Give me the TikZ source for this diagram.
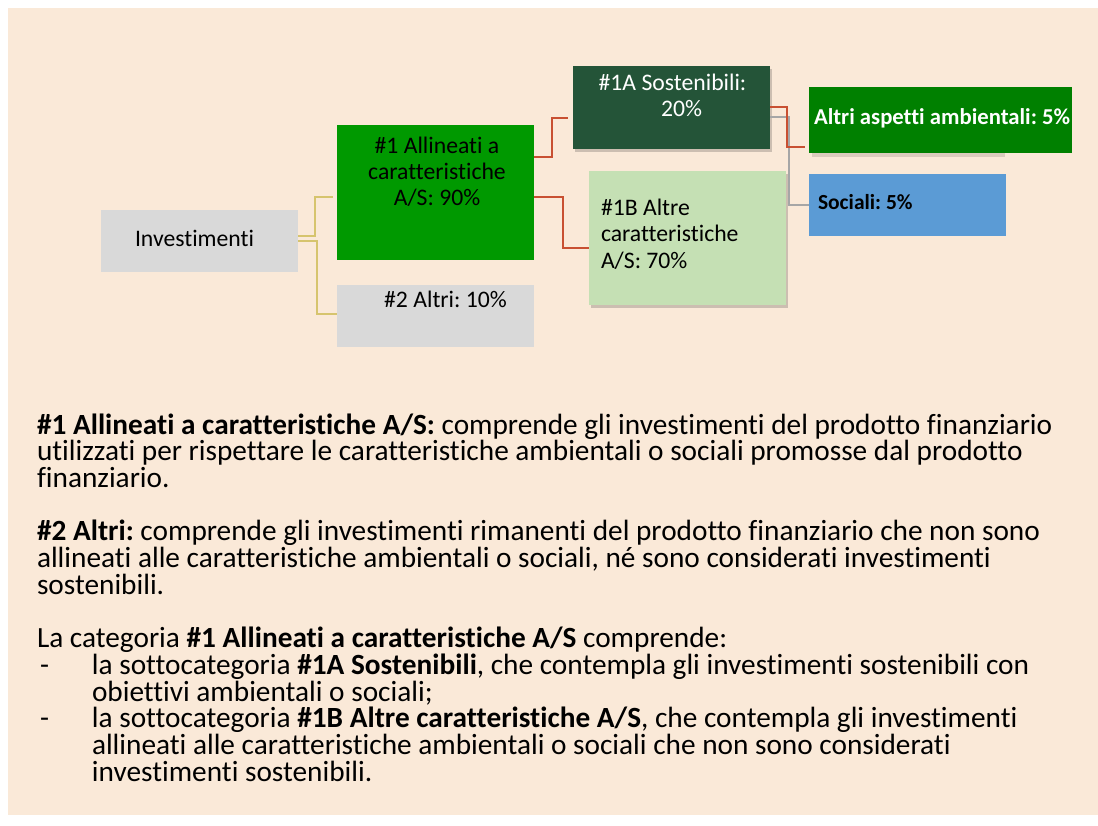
\documentclass[tikz,border=0pt]{standalone}
\usepackage{fontspec}
\setmainfont{Carlito}[Ligatures=CommonOff]
\usetikzlibrary{shadows}
\definecolor{bg}{RGB}{250,233,216}
\definecolor{boxgray}{RGB}{217,217,217}
\definecolor{greenA}{RGB}{0,153,0}
\definecolor{darkgreen}{RGB}{36,84,56}
\definecolor{lightgreen}{RGB}{197,224,180}
\definecolor{ambgreen}{RGB}{0,128,0}
\definecolor{socblue}{RGB}{91,155,213}
\definecolor{redline}{RGB}{200,80,50}
\definecolor{goldline}{RGB}{214,196,110}
\definecolor{grayline}{RGB}{166,166,166}
\newcommand{\diagfont}{\fontsize{23.7pt}{26.3pt}\selectfont\lineskiplimit=-100pt}
\newcommand{\parfont}{\fontsize{29.3pt}{26.7pt}\selectfont\lineskiplimit=-100pt}
\frenchspacing
\begin{document}
\frenchspacing
\begin{tikzpicture}[x=1pt,y=-1pt,
  box/.style 2 args={rectangle,inner sep=0pt,draw=none,minimum width=#1,minimum height=#2},
  shadowed/.style={drop shadow={shadow xshift=1.5pt,shadow yshift=-2.5pt,opacity=0.18,fill=black}},
  txt/.style={inner sep=0pt,outer sep=0pt},
  goldconn/.style={draw=goldline,line width=1.6pt},
  redconn/.style={draw=redline,line width=1.8pt},
  grayconn/.style={draw=grayline,line width=1.8pt}]
\useasboundingbox (0,0) rectangle (1098,825);
\fill[white] (0,0) rectangle (1098,825);
\fill[bg] (8,8) rectangle (1098,815);

% boxes
\node[box={197pt}{62pt},fill=boxgray] (inv) at (199.5,241) {};
\node[box={197pt}{135pt},fill=greenA] (n1) at (435.5,192.5) {};
\node[box={197pt}{62pt},fill=boxgray] (n2) at (435.5,316) {};
\node[box={197pt}{83pt},fill=darkgreen,shadowed] (n1a) at (671.5,107.5) {};
\node[box={197pt}{134pt},fill=lightgreen,shadowed] (n1b) at (687.5,238) {};
\fill[black,opacity=0.12] (812,153) rectangle (1005,157);
\node[box={263pt}{66pt},fill=ambgreen] (amb) at (940.5,120) {};
\node[box={197pt}{62pt},fill=socblue] (soc) at (907.5,205) {};

% box texts
\node[txt,anchor=base west] (invt) at (135,246) {\diagfont Investimenti};
\node[txt,anchor=base] (n1t) at (437,153.3) {\parbox[t]{197pt}{\centering\diagfont \#1 Allineati a\\caratteristiche\\A/S: 90\%}};
\node[txt,anchor=base] (n2t) at (445.5,307.3) {\diagfont \#2 Altri: 10\%};
\node[txt,anchor=base,text=white] (n1at) at (672.5,90) {\parbox[t]{197pt}{\centering\diagfont \#1A Sostenibili:\\\hspace*{18pt}20\%}};
\node[txt,anchor=base west] (n1bt) at (601,215) {\parbox[t]{180pt}{\raggedright\fontsize{23.7pt}{26.5pt}\selectfont\lineskiplimit=-100pt \#1B Altre\\caratteristiche\\A/S: 70\%}};
\node[txt,anchor=base west,text=white] (ambt) at (814,124.3) {\fontsize{22.7pt}{26pt}\selectfont\bfseries Altri aspetti ambientali: 5\%};
\node[txt,anchor=base west] (soct) at (818,209.3) {\fontsize{21.5pt}{26pt}\selectfont\bfseries Sociali: 5\%};

% connectors
\coordinate (g1end) at (333,197);
\draw[goldconn] ([yshift=5pt]inv.east) -- ++(17,0) |- (g1end);
\draw[goldconn] (inv.east) -- ++(19,0) |- ([yshift=2pt]n2.west);
\coordinate (r1end) at (568,118);
\draw[redconn] ([yshift=35.5pt]n1.east) -- ++(18,0) |- (r1end);
\draw[redconn] ([yshift=-4.5pt]n1.east) -- ++(29,0) |- ([yshift=-10pt]n1b.west);
\draw[grayconn] ([yshift=-9.5pt]n1a.east) -- ++(19,0) |- (soc.west);
\coordinate (r3end) at (805,147);
\draw[redconn] ([yshift=0.5pt]n1a.east) -- ++(17,0) |- (r3end);

% paragraphs
\node[txt,anchor=base west] (p1) at (37,434) {\parbox[t]{1060pt}{\parfont\raggedright
\textbf{\#1 Allineati a caratteristiche A/S:} comprende gli investimenti del prodotto finanziario\\
utilizzati per rispettare le caratteristiche ambientali o sociali promosse dal prodotto\\
finanziario.}};
\node[txt,anchor=base west] (p2) at (37,540.8) {\parbox[t]{1060pt}{\parfont\raggedright
\textbf{\#2 Altri:} comprende gli investimenti rimanenti del prodotto finanziario che non sono\\
allineati alle caratteristiche ambientali o sociali, né sono considerati investimenti\\
sostenibili.}};
\node[txt,anchor=base west] (p3) at (37,647.6) {\parbox[t]{1060pt}{\parfont\raggedright
La categoria \textbf{\#1 Allineati a caratteristiche A/S} comprende:\\
\makebox[55pt][l]{\hspace*{3pt}-}la sottocategoria \textbf{\#1A Sostenibili}, che contempla gli investimenti sostenibili con\\
\hspace*{55pt}obiettivi ambientali o sociali;\\
\makebox[55pt][l]{\hspace*{3pt}-}la sottocategoria \textbf{\#1B Altre caratteristiche A/S}, che contempla gli investimenti\\
\hspace*{55pt}allineati alle caratteristiche ambientali o sociali che non sono considerati\\
\hspace*{55pt}investimenti sostenibili.}};
\end{tikzpicture}
\end{document}
